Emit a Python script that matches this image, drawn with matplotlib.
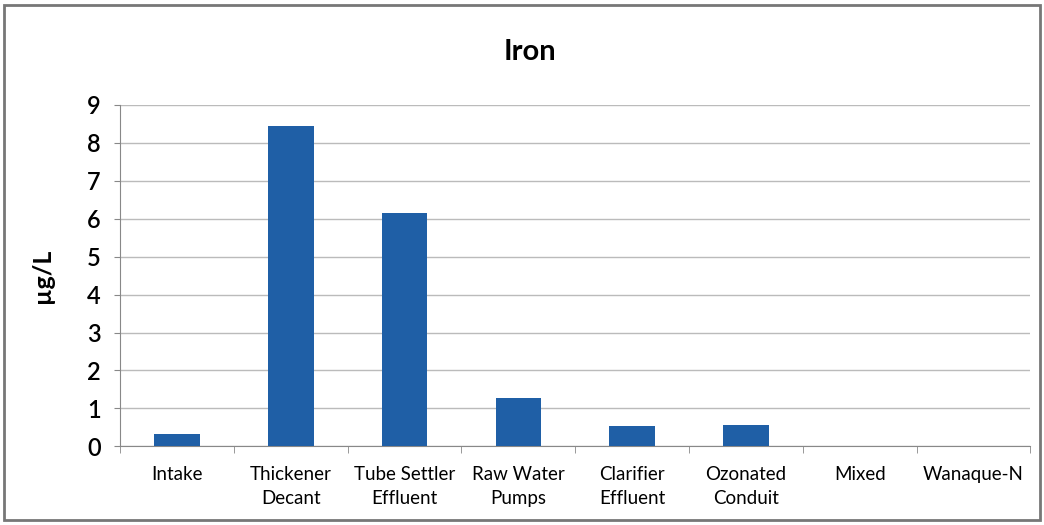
import matplotlib
matplotlib.use('Agg')
import matplotlib.pyplot as plt
from matplotlib.patches import Rectangle

plt.rcParams['font.family'] = ['Lato', 'DejaVu Sans']

categories = ['Intake', 'Thickener\nDecant', 'Tube Settler\nEffluent', 'Raw Water\nPumps',
              'Clarifier\nEffluent', 'Ozonated\nConduit', 'Mixed', 'Wanaque-N']
iron = [0.32, 8.45, 6.15, 1.27, 0.53, 0.55, 0, 0]
y_ticks = [0, 1, 2, 3, 4, 5, 6, 7, 8, 9]

fig = plt.figure(figsize=(10.44, 5.25), dpi=100)
ax = fig.add_axes([0.115, 0.150, 0.872, 0.650])

x = range(len(categories))
ax.bar(x, iron, width=0.4, color='#1f5fa6', zorder=3)

ax.set_xlim(-0.5, len(categories) - 0.5)
ax.set_ylim(0, 9)
ax.set_yticks(y_ticks)
ax.set_yticklabels([str(t) for t in y_ticks], fontsize=17, fontweight='semibold')
ax.set_xticks(list(x))
ax.set_xticklabels(categories, fontsize=13.5, linespacing=1.5)
ax.set_xticks([i - 0.5 for i in range(len(categories) + 1)], minor=True)
ax.tick_params(axis='x', which='major', length=0, pad=14)
ax.tick_params(axis='x', which='minor', length=5, color='#888888')
ax.tick_params(axis='y', length=4, color='#888888', pad=10)
ax.yaxis.grid(True, color='#bbbbbb', linewidth=1, zorder=0)

for side in ['top', 'right']:
    ax.spines[side].set_visible(False)
ax.spines['left'].set_color('#888888')
ax.spines['bottom'].set_color('#888888')

fig.text(0.508, 0.90, 'Iron', fontsize=21, fontweight='bold', ha='center', va='center')
ax.set_ylabel('µg/L', fontsize=18, fontweight='bold', labelpad=24)

# outer frame of the chart
fig.patches.append(Rectangle((0.004, 0.01), 0.992, 0.98, transform=fig.transFigure,
                             fill=False, edgecolor='#777777', linewidth=2))

fig.savefig('out.png', dpi=100)
